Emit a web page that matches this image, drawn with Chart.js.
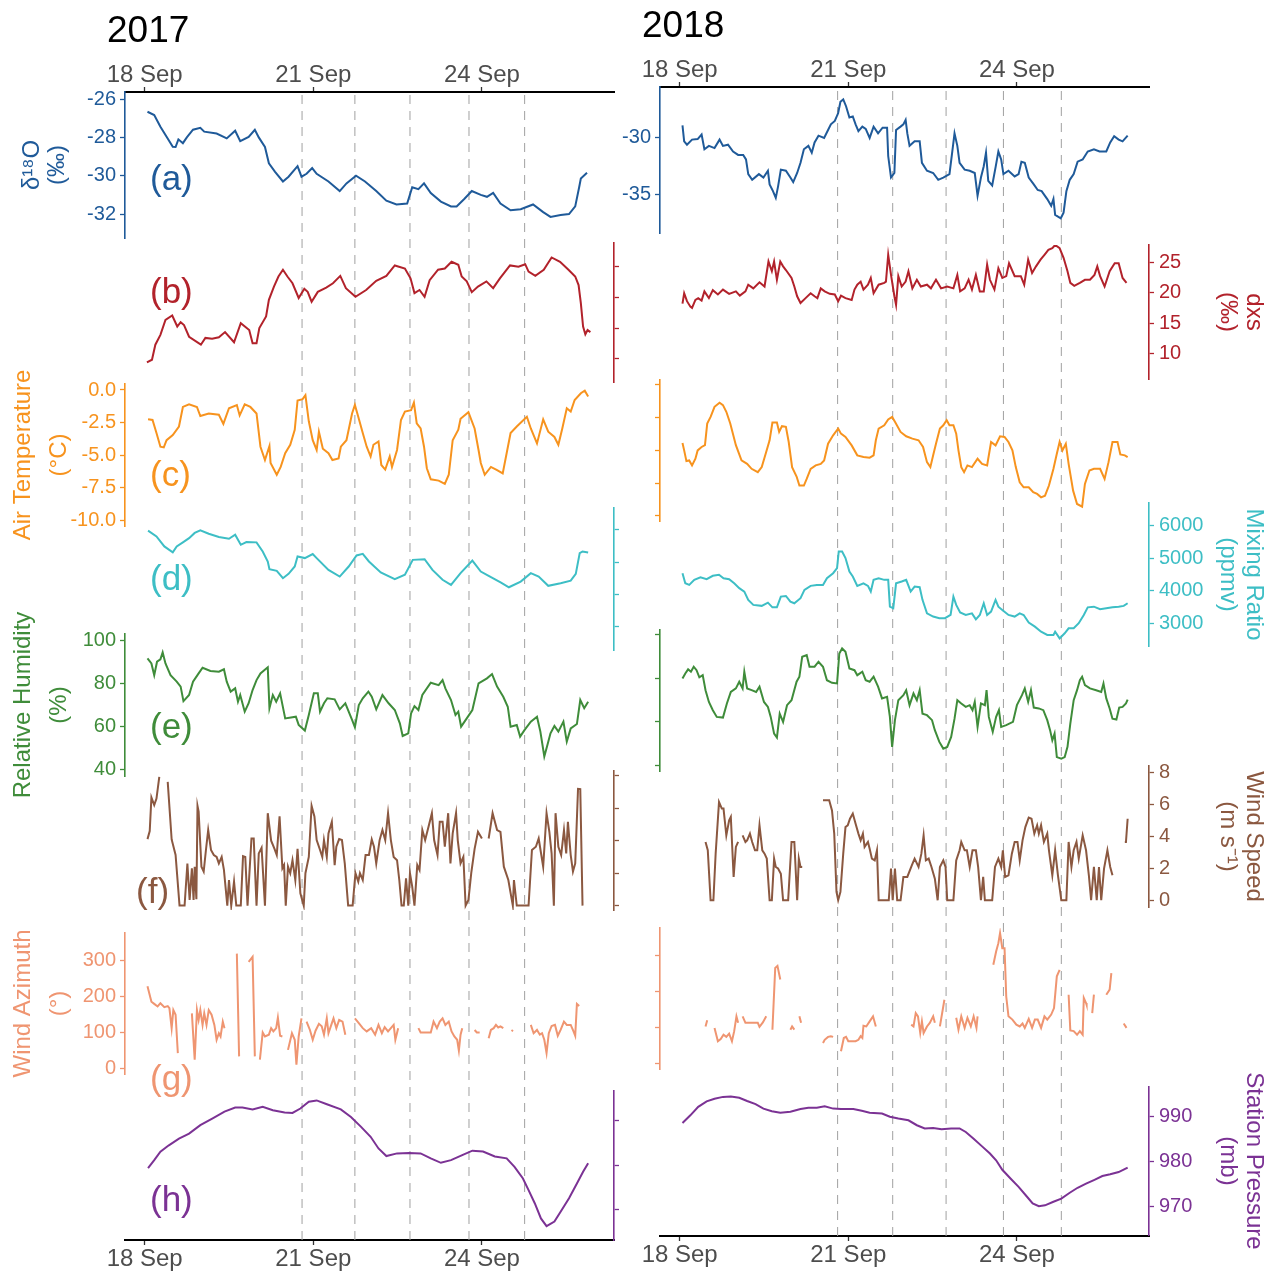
<!DOCTYPE html>
<html>
<head>
<meta charset="utf-8">
<title>Isotopes and weather, 18-26 Sep 2017 / 2018</title>
<script src="https://cdn.jsdelivr.net/npm/chart.js"></script>
<style>
  body { margin: 0; background: #fff; }
  #wrap { position: relative; width: 1269px; height: 1273px; overflow: hidden; }
  .pane { position: absolute; top: 0; }
</style>
</head>
<body>
<div id="wrap"></div>
<script>
// time = days since 18 Sep 00:00, [t, value]; null = no data
const d18O_2017 = [[0.05,-26.66],[0.17,-26.83],[0.28,-27.44],[0.39,-27.97],[0.5,-28.49],[0.55,-28.5],[0.6,-28.1],[0.68,-28.3],[0.75,-28.0],[0.86,-27.6],[0.99,-27.5],[1.06,-27.7],[1.28,-27.8],[1.46,-28.05],[1.61,-27.65],[1.70,-28.2],[1.85,-27.97],[1.96,-27.6],[2.03,-28.0],[2.14,-28.5],[2.21,-29.35],[2.32,-29.8],[2.46,-30.3],[2.56,-30.05],[2.72,-29.5],[2.79,-30.05],[2.88,-29.9],[2.98,-29.6],[3.06,-29.9],[3.27,-30.3],[3.47,-30.8],[3.59,-30.4],[3.76,-30.0],[3.92,-30.3],[4.12,-30.8],[4.30,-31.3],[4.48,-31.5],[4.67,-31.45],[4.76,-30.6],[4.87,-30.7],[4.97,-30.4],[5.09,-30.9],[5.27,-31.35],[5.45,-31.6],[5.55,-31.6],[5.69,-31.2],[5.82,-30.8],[5.98,-31.0],[6.09,-31.1],[6.20,-30.9],[6.33,-31.45],[6.51,-31.8],[6.69,-31.75],[6.91,-31.5],[7.09,-31.9],[7.22,-32.15],[7.40,-32.05],[7.55,-32.0],[7.66,-31.6],[7.73,-30.6],[7.76,-30.15],[7.87,-29.85]];
const dxs_2017 = [[0.04,9.42],[0.13,9.85],[0.19,12.3],[0.28,13.9],[0.37,16.35],[0.49,17.05],[0.58,15.26],[0.64,15.97],[0.7,15.5],[0.79,13.6],[1.0,12.3],[1.08,13.4],[1.2,13.26],[1.32,13.5],[1.43,14.35],[1.59,12.7],[1.71,15.8],[1.86,14.7],[1.92,12.55],[1.99,12.55],[2.04,15.0],[2.16,16.9],[2.21,19.6],[2.3,21.75],[2.38,23.4],[2.46,24.5],[2.54,23.4],[2.63,22.3],[2.74,19.9],[2.84,21.4],[2.9,20.9],[2.97,19.3],[3.08,20.9],[3.23,21.6],[3.35,22.3],[3.48,23.5],[3.58,21.5],[3.75,20.1],[3.94,21.2],[4.12,22.7],[4.3,23.5],[4.45,25.2],[4.63,24.7],[4.73,23.1],[4.8,20.7],[4.89,21.2],[4.98,20.1],[5.07,22.8],[5.22,24.5],[5.34,24.7],[5.46,25.8],[5.58,25.3],[5.64,23.4],[5.73,22.6],[5.82,20.85],[5.93,21.75],[6.08,22.6],[6.2,21.5],[6.32,23.1],[6.5,25.2],[6.65,25.0],[6.77,25.4],[6.83,24.2],[6.95,23.5],[7.1,24.5],[7.24,26.5],[7.39,25.8],[7.54,24.5],[7.66,23.4],[7.72,22.0],[7.76,19.05],[7.8,15.26],[7.84,14.0],[7.88,14.7],[7.93,14.35]];
const temp_2017 = [[0.06,-2.25],[0.14,-2.3],[0.21,-3.3],[0.28,-4.35],[0.34,-4.4],[0.39,-3.85],[0.5,-3.45],[0.61,-2.8],[0.68,-1.3],[0.79,-1.1],[0.93,-1.3],[0.99,-2.0],[1.14,-1.8],[1.32,-1.9],[1.40,-2.6],[1.50,-1.4],[1.64,-1.15],[1.69,-1.95],[1.78,-1.1],[1.88,-1.3],[1.99,-1.8],[2.06,-4.35],[2.14,-5.37],[2.22,-4.3],[2.24,-5.6],[2.35,-6.5],[2.42,-5.9],[2.50,-4.85],[2.59,-4.2],[2.67,-3.05],[2.72,-0.8],[2.81,-0.7],[2.86,-0.4],[2.92,-2.4],[2.99,-3.85],[3.06,-4.6],[3.10,-3.2],[3.17,-4.5],[3.27,-4.85],[3.34,-5.37],[3.45,-5.25],[3.49,-4.35],[3.59,-3.85],[3.69,-1.8],[3.74,-1.15],[3.80,-2.05],[3.88,-3.3],[3.95,-4.35],[4.02,-5.1],[4.07,-4.2],[4.16,-3.95],[4.21,-5.75],[4.28,-6.1],[4.36,-5.1],[4.40,-5.9],[4.49,-4.6],[4.56,-2.3],[4.63,-1.65],[4.74,-1.55],[4.79,-0.97],[4.84,-2.55],[4.91,-2.95],[4.97,-4.35],[5.02,-6.0],[5.09,-6.85],[5.23,-6.95],[5.34,-7.2],[5.41,-6.5],[5.48,-3.85],[5.58,-3.05],[5.62,-2.2],[5.76,-1.7],[5.87,-2.95],[5.94,-4.6],[5.98,-5.6],[6.05,-6.5],[6.16,-5.9],[6.27,-6.15],[6.37,-6.4],[6.44,-4.85],[6.51,-3.3],[6.62,-2.8],[6.80,-2.05],[6.87,-2.95],[6.98,-4.1],[7.09,-2.25],[7.18,-3.2],[7.29,-3.6],[7.36,-4.2],[7.43,-2.95],[7.51,-1.4],[7.58,-1.65],[7.65,-0.77],[7.76,-0.25],[7.83,-0.05],[7.89,-0.5]];
const mix_2017 = [[0.06,5970],[0.21,5795],[0.35,5485],[0.5,5300],[0.57,5485],[0.68,5610],[0.79,5740],[0.89,5900],[0.99,5980],[1.14,5875],[1.32,5775],[1.50,5720],[1.61,5845],[1.71,5535],[1.81,5620],[1.99,5610],[2.10,5330],[2.19,5020],[2.22,4785],[2.35,4730],[2.46,4505],[2.56,4640],[2.67,4865],[2.72,5175],[2.85,5125],[2.99,5250],[3.06,5125],[3.27,4760],[3.47,4555],[3.63,4865],[3.77,5205],[3.88,5255],[3.99,5020],[4.20,4680],[4.45,4475],[4.63,4610],[4.77,5070],[4.98,5090],[5.12,4760],[5.30,4455],[5.45,4300],[5.62,4660],[5.83,5050],[5.98,4710],[6.12,4575],[6.34,4370],[6.48,4225],[6.69,4400],[6.87,4660],[7.01,4555],[7.18,4270],[7.40,4350],[7.58,4430],[7.67,4640],[7.74,5280],[7.79,5330],[7.89,5300]];
const rh_2017 = [[0.05,91.5],[0.12,89.2],[0.17,83.8],[0.22,90],[0.28,91.1],[0.32,94.3],[0.37,89.2],[0.46,83.8],[0.57,80.8],[0.64,78.5],[0.69,71.8],[0.79,74.6],[0.86,80.8],[0.96,84.6],[1.03,87.2],[1.17,85.7],[1.32,85.4],[1.41,86.5],[1.46,80.8],[1.53,76.2],[1.61,77.7],[1.66,71.5],[1.70,74.6],[1.78,66.9],[1.85,70.8],[1.92,76.9],[1.99,81.5],[2.06,84.6],[2.19,87.4],[2.22,68.5],[2.28,74.6],[2.34,71.5],[2.41,75.4],[2.50,63.8],[2.69,64.6],[2.74,60.8],[2.85,58.2],[2.92,65.4],[3.01,75.4],[3.08,75.4],[3.12,66.9],[3.19,70.8],[3.25,73.1],[3.38,72.6],[3.47,68.0],[3.57,70.8],[3.69,63.1],[3.74,59.7],[3.81,70],[3.88,73.1],[3.98,76.2],[4.04,73.8],[4.12,68.0],[4.23,74.6],[4.34,70.8],[4.45,67.7],[4.54,61.5],[4.59,55.7],[4.69,56.9],[4.74,66.2],[4.80,69.5],[4.87,67.7],[4.94,74.6],[5.09,80.3],[5.23,79.2],[5.30,81.5],[5.35,77.7],[5.45,72.3],[5.53,65.4],[5.58,66.9],[5.63,60.0],[5.73,63.8],[5.83,67.7],[5.94,80],[6.09,82.3],[6.18,84.3],[6.27,78.5],[6.38,73.8],[6.46,69.2],[6.51,60],[6.62,60.8],[6.68,55.4],[6.76,58.5],[6.87,62.3],[6.98,64.6],[7.04,57.7],[7.11,46.2],[7.17,52],[7.22,56.9],[7.29,60.3],[7.36,57.7],[7.45,62.3],[7.51,53.1],[7.58,59.2],[7.69,61.2],[7.75,72.3],[7.82,68.5],[7.89,71.5]];
const ws_2017 = [[0.05,4.1],[0.09,4.6],[0.12,6.67],[0.17,6.2],[0.21,6.6],[0.26,7.94],[0.33,null],[0.41,7.63],[0.48,4.08],[0.55,3.12],[0.62,0],[0.71,0],[0.76,2.6],[0.8,0.35],[0.84,2.3],[0.87,0.35],[0.89,2.4],[0.92,0.4],[0.94,6.15],[0.96,5.8],[1.01,2.4],[1.05,2.1],[1.09,3.43],[1.13,4.66],[1.18,3.43],[1.23,3.12],[1.28,3.0],[1.32,2.6],[1.37,3.0],[1.41,2.2],[1.47,0],[1.50,1.58],[1.54,0],[1.59,1.48],[1.63,0],[1.71,0],[1.75,3.05],[1.79,3.0],[1.83,0],[1.90,4.14],[1.94,4.14],[1.99,0],[2.03,3.22],[2.08,3.57],[2.14,0],[2.19,5.7],[2.25,4.0],[2.31,3.5],[2.35,3.12],[2.40,5.5],[2.45,2.3],[2.48,2.5],[2.51,0],[2.55,2.4],[2.59,2.0],[2.63,2.8],[2.68,1.58],[2.72,3.5],[2.77,0.76],[2.83,0],[2.86,2.0],[2.92,3.0],[2.97,6.15],[3.02,5.5],[3.06,4.04],[3.12,3.43],[3.16,3.0],[3.19,4.04],[3.24,3.0],[3.27,4.45],[3.33,5.17],[3.38,2.5],[3.41,3.63],[3.46,4.1],[3.51,4.04],[3.56,2.6],[3.62,0],[3.70,0],[3.75,2.0],[3.80,1.48],[3.83,2.0],[3.88,1.58],[3.93,3.12],[3.99,3.12],[4.04,4.08],[4.08,3.63],[4.12,2.6],[4.18,4.04],[4.23,4.66],[4.28,4.04],[4.33,5.7],[4.38,4.04],[4.43,3.0],[4.49,2.8],[4.53,1.58],[4.57,0],[4.61,0],[4.65,1.68],[4.69,0],[4.72,2.0],[4.76,1.17],[4.80,0],[4.85,2.5],[4.89,2.2],[4.94,4.66],[4.99,4.04],[5.05,4.86],[5.11,5.7],[5.15,4.04],[5.21,3.12],[5.25,5.17],[5.30,5.17],[5.34,3.63],[5.40,5.7],[5.44,2.6],[5.48,4.45],[5.54,5.7],[5.57,4.04],[5.62,2.6],[5.67,3.0],[5.71,0],[5.76,0.35],[5.81,2.0],[5.87,3.5],[5.93,4.55],[6.00,4.14],[6.06,null],[6.12,4.14],[6.19,5.7],[6.27,4.66],[6.33,4.55],[6.39,2.4],[6.47,1.58],[6.55,0],[6.57,1.58],[6.62,0],[6.73,0],[6.78,0],[6.83,0],[6.89,3.43],[6.96,3.63],[7.01,4.14],[7.09,2.4],[7.15,5.7],[7.20,4.55],[7.24,3.22],[7.28,0],[7.31,5.7],[7.36,3.63],[7.41,3.12],[7.46,4.66],[7.50,3.22],[7.53,5.17],[7.58,3.12],[7.62,2.1],[7.66,2.6],[7.71,7.2],[7.75,7.18],[7.79,0]];
const wd_2017 = [[0.05,228],[0.12,185],[0.17,179],[0.23,172],[0.28,181],[0.35,170],[0.41,173],[0.44,167],[0.48,112],[0.51,162],[0.55,149],[0.59,43],[0.7,null],[0.84,153],[0.89,25],[0.93,162],[0.96,135],[0.99,162],[1.03,121],[1.06,153],[1.10,121],[1.14,162],[1.19,149],[1.24,121],[1.28,80],[1.32,98],[1.35,89],[1.39,130],[1.42,112],[1.5,null],[1.64,318],[1.68,34],[1.75,null],[1.85,295],[1.92,309],[1.96,34],[2.0,null],[2.05,25],[2.10,100],[2.14,89],[2.21,94],[2.25,112],[2.29,103],[2.34,112],[2.37,141],[2.41,91],[2.45,89],[2.5,null],[2.55,52],[2.62,98],[2.67,80],[2.70,11],[2.74,89],[2.79,139],[2.83,null],[2.88,130],[2.94,107],[2.99,80],[3.04,105],[3.10,124],[3.15,117],[3.19,94],[3.24,139],[3.27,98],[3.32,121],[3.36,139],[3.41,112],[3.46,135],[3.52,130],[3.57,94],[3.65,null],[3.74,139],[3.81,126],[3.88,112],[3.95,103],[4.03,112],[4.10,94],[4.16,121],[4.22,98],[4.27,115],[4.33,103],[4.38,112],[4.43,121],[4.46,80],[4.51,112],[4.7,null],[4.87,112],[4.91,100],[4.98,100],[5.09,100],[5.14,130],[5.20,112],[5.25,130],[5.30,139],[5.35,121],[5.41,130],[5.46,103],[5.51,89],[5.56,80],[5.59,50],[5.62,94],[5.65,112],[5.75,null],[5.87,107],[5.91,100],[5.96,100],[6.05,null],[6.12,84],[6.16,107],[6.21,112],[6.25,121],[6.29,114],[6.33,117],[6.38,112],[6.45,null],[6.53,103],[6.55,107],[6.7,null],[6.87,121],[6.92,98],[6.98,107],[7.03,94],[7.07,98],[7.11,80],[7.15,43],[7.19,98],[7.24,118],[7.30,121],[7.35,91],[7.40,107],[7.46,130],[7.51,121],[7.58,121],[7.63,103],[7.66,91],[7.69,179],[7.73,173]];
const pres_2017 = [[0.06,979.3],[0.17,981.1],[0.28,983.0],[0.43,984.4],[0.61,985.9],[0.79,987.0],[0.99,988.9],[1.21,990.4],[1.42,991.9],[1.61,992.8],[1.74,992.8],[1.92,992.4],[2.10,993.0],[2.28,992.2],[2.49,991.7],[2.63,991.6],[2.77,992.6],[2.92,994.1],[3.06,994.4],[3.23,993.6],[3.49,992.4],[3.67,990.7],[3.85,988.5],[4.02,986.3],[4.16,983.7],[4.30,982.0],[4.49,982.6],[4.70,982.7],[4.91,982.6],[5.09,981.5],[5.27,980.5],[5.45,981.1],[5.65,982.2],[5.83,983.2],[6.02,983.0],[6.23,981.9],[6.44,981.5],[6.58,979.6],[6.73,977.0],[6.83,974.4],[6.94,971.5],[7.05,968.1],[7.15,966.4],[7.29,967.4],[7.40,969.6],[7.55,972.6],[7.69,975.9],[7.80,978.5],[7.89,980.4]];

const d18O_2018 = [[0.05,-28.9],[0.08,-30.3],[0.13,-30.6],[0.22,-30.15],[0.32,-30.1],[0.39,-29.7],[0.44,-31.0],[0.52,-30.7],[0.62,-30.9],[0.71,-30.15],[0.77,-30.7],[0.86,-30.6],[0.95,-31.2],[1.04,-31.5],[1.13,-31.5],[1.18,-31.9],[1.22,-33.2],[1.29,-33.7],[1.41,-33.2],[1.49,-33.5],[1.57,-32.9],[1.60,-34.1],[1.66,-34.7],[1.71,-35.3],[1.75,-34.3],[1.80,-32.8],[1.89,-32.9],[1.97,-33.5],[2.02,-33.9],[2.09,-33.1],[2.15,-32.2],[2.21,-31.0],[2.29,-30.7],[2.35,-31.3],[2.40,-30.4],[2.47,-29.8],[2.57,-30.0],[2.64,-29.3],[2.69,-28.8],[2.76,-28.5],[2.82,-27.8],[2.86,-26.8],[2.91,-26.6],[2.96,-27.2],[3.02,-28.2],[3.08,-28.1],[3.13,-28.8],[3.18,-29.4],[3.25,-29.0],[3.31,-29.2],[3.38,-30.0],[3.45,-29.0],[3.53,-29.6],[3.61,-29.1],[3.69,-29.1],[3.71,-31.6],[3.76,-33.5],[3.82,-33.1],[3.85,-29.3],[3.93,-29.0],[3.98,-28.8],[4.02,-28.4],[4.05,-29.6],[4.09,-30.7],[4.18,-30.3],[4.27,-30.3],[4.31,-32.2],[4.40,-32.9],[4.51,-33.1],[4.60,-33.7],[4.69,-33.5],[4.80,-33.2],[4.85,-31.2],[4.89,-29.6],[4.94,-30.7],[4.98,-32.2],[5.07,-32.8],[5.16,-32.9],[5.25,-33.1],[5.30,-35.1],[5.36,-33.5],[5.41,-32.5],[5.45,-31.3],[5.49,-33.8],[5.56,-34.2],[5.62,-32.6],[5.67,-31.2],[5.72,-31.9],[5.76,-33.2],[5.85,-32.9],[5.96,-33.4],[6.03,-33.2],[6.08,-32.1],[6.14,-32.2],[6.21,-33.5],[6.30,-34.1],[6.37,-34.6],[6.44,-34.7],[6.54,-35.4],[6.61,-36.0],[6.65,-35.4],[6.68,-36.8],[6.78,-37.1],[6.83,-36.6],[6.88,-34.7],[6.94,-33.7],[7.01,-33.2],[7.08,-32.1],[7.17,-31.9],[7.26,-31.2],[7.37,-31.0],[7.47,-31.2],[7.59,-31.2],[7.66,-30.4],[7.73,-29.85],[7.81,-30.15],[7.88,-30.3],[7.97,-29.8]];
const dxs_2018 = [[0.05,18.2],[0.08,19.9],[0.13,18.6],[0.19,17.7],[0.22,17.5],[0.28,18.8],[0.33,19.1],[0.39,18.7],[0.44,20.2],[0.52,19.1],[0.59,20.4],[0.68,19.7],[0.77,20.5],[0.88,19.8],[1.0,20.2],[1.07,19.5],[1.17,20.2],[1.22,21.3],[1.31,20.7],[1.42,21.7],[1.51,21.0],[1.58,25.1],[1.64,23.5],[1.68,25.1],[1.73,22.1],[1.79,25.1],[1.84,24.3],[1.89,23.7],[1.99,22.4],[2.04,21.0],[2.09,19.4],[2.15,18.3],[2.24,19.1],[2.33,19.9],[2.4,19.4],[2.45,19.1],[2.51,20.7],[2.58,20.2],[2.67,19.8],[2.76,19.7],[2.82,18.6],[2.87,19.5],[2.95,19.1],[3.06,18.8],[3.11,20.5],[3.16,21.3],[3.22,21.8],[3.27,20.5],[3.35,21.3],[3.4,22.4],[3.45,19.9],[3.54,21.3],[3.64,21.6],[3.67,21.8],[3.71,26.2],[3.76,22.9],[3.82,19.4],[3.85,18.0],[3.89,22.7],[3.95,21.0],[4.02,21.8],[4.07,23.5],[4.14,20.7],[4.22,22.1],[4.29,21.0],[4.4,21.3],[4.47,20.7],[4.56,22.1],[4.65,20.7],[4.76,21.0],[4.87,20.7],[4.94,22.9],[4.99,20.2],[5.07,20.7],[5.14,22.1],[5.2,20.5],[5.27,22.9],[5.34,20.2],[5.41,20.2],[5.47,24.6],[5.52,22.1],[5.6,20.5],[5.67,24.0],[5.74,22.4],[5.81,22.7],[5.86,24.8],[5.96,22.7],[6.07,22.7],[6.13,21.3],[6.2,25.4],[6.27,23.2],[6.34,24.3],[6.42,25.4],[6.49,26.2],[6.56,27.0],[6.63,27.3],[6.68,27.8],[6.76,27.3],[6.83,25.7],[6.9,23.5],[6.95,21.6],[7.02,21.1],[7.12,21.6],[7.21,22.1],[7.3,22.1],[7.38,22.9],[7.43,24.3],[7.48,22.7],[7.56,21.0],[7.65,23.5],[7.74,24.8],[7.81,24.8],[7.88,22.4],[7.95,21.6]];
const temp_2018 = [[0.05,-4.44],[0.08,-5.0],[0.12,-5.82],[0.17,-5.77],[0.22,-6.15],[0.28,-5.64],[0.32,-5.0],[0.39,-4.74],[0.45,-4.6],[0.49,-2.95],[0.55,-2.44],[0.62,-1.67],[0.71,-1.36],[0.77,-1.54],[0.83,-2.05],[0.9,-2.95],[1.0,-4.6],[1.1,-5.77],[1.2,-6.03],[1.28,-6.41],[1.39,-6.67],[1.46,-6.28],[1.53,-5.26],[1.6,-4.23],[1.65,-2.87],[1.73,-2.87],[1.77,-3.59],[1.82,-3.15],[1.89,-3.2],[1.94,-4.36],[2.0,-6.28],[2.08,-7.0],[2.13,-7.69],[2.21,-7.69],[2.26,-7.18],[2.33,-6.41],[2.42,-6.15],[2.51,-6.03],[2.57,-5.77],[2.64,-4.49],[2.73,-3.85],[2.82,-3.33],[2.87,-3.72],[2.95,-3.97],[3.06,-4.62],[3.16,-5.38],[3.27,-5.51],[3.38,-5.56],[3.45,-5.38],[3.49,-4.23],[3.54,-3.33],[3.64,-3.08],[3.71,-2.64],[3.78,-2.44],[3.83,-2.82],[3.93,-3.59],[4.03,-3.92],[4.14,-4.1],[4.25,-4.23],[4.33,-4.74],[4.4,-5.9],[4.46,-6.28],[4.51,-5.38],[4.56,-4.49],[4.63,-3.33],[4.69,-3.08],[4.75,-2.69],[4.8,-3.08],[4.87,-3.08],[4.92,-3.72],[4.96,-5.0],[5.01,-6.28],[5.06,-6.67],[5.12,-6.15],[5.2,-6.28],[5.3,-5.64],[5.38,-6.03],[5.47,-6.15],[5.54,-4.36],[5.62,-4.62],[5.7,-3.92],[5.78,-3.97],[5.85,-4.36],[5.92,-5.0],[5.98,-6.28],[6.05,-7.44],[6.12,-7.82],[6.21,-7.82],[6.29,-8.2],[6.36,-8.33],[6.43,-8.59],[6.5,-8.46],[6.57,-7.69],[6.65,-6.41],[6.71,-5.26],[6.76,-4.36],[6.81,-5.0],[6.87,-4.49],[6.92,-6.03],[7.0,-8.08],[7.07,-9.1],[7.16,-9.31],[7.21,-7.56],[7.29,-6.54],[7.37,-6.41],[7.48,-6.41],[7.56,-7.18],[7.63,-5.9],[7.7,-4.36],[7.79,-4.36],[7.84,-5.31],[7.92,-5.38],[7.97,-5.51]];
const mix_2018 = [[0.05,4540],[0.1,4230],[0.17,4180],[0.26,4335],[0.37,4415],[0.48,4355],[0.59,4460],[0.7,4490],[0.78,4385],[0.88,4355],[0.97,4230],[1.06,4080],[1.15,3975],[1.22,3720],[1.31,3565],[1.46,3535],[1.57,3635],[1.65,3490],[1.73,3490],[1.8,3820],[1.89,3840],[1.97,3665],[2.04,3615],[2.15,3770],[2.22,4025],[2.33,4150],[2.44,4180],[2.55,4180],[2.62,4385],[2.73,4540],[2.8,4695],[2.83,5210],[2.89,5210],[2.95,5005],[3.02,4590],[3.08,4440],[3.16,4150],[3.27,4230],[3.35,4150],[3.4,3975],[3.45,4335],[3.54,4385],[3.64,4335],[3.71,4335],[3.74,3510],[3.8,3460],[3.85,4230],[3.95,4285],[4.03,4335],[4.11,3975],[4.18,4130],[4.27,4110],[4.32,3720],[4.4,3305],[4.51,3205],[4.62,3155],[4.72,3155],[4.82,3255],[4.87,3820],[4.92,3565],[4.99,3330],[5.09,3255],[5.2,3305],[5.27,3120],[5.34,3255],[5.41,3615],[5.47,3255],[5.54,3360],[5.62,3720],[5.67,3510],[5.74,3410],[5.85,3255],[5.96,3205],[6.05,3305],[6.12,3255],[6.21,3020],[6.32,2895],[6.43,2740],[6.54,2640],[6.65,2640],[6.68,2740],[6.76,2535],[6.85,2690],[6.92,2845],[7.01,2845],[7.1,3000],[7.19,3255],[7.26,3490],[7.37,3510],[7.48,3430],[7.59,3460],[7.7,3490],[7.81,3510],[7.9,3535],[7.97,3615]];
const rh_2018 = [[0.05,80],[0.1,82.3],[0.15,84.2],[0.2,83.1],[0.25,85.4],[0.3,83.8],[0.35,80.5],[0.41,81.5],[0.46,74.6],[0.52,69.2],[0.59,65.4],[0.66,62.3],[0.77,62],[0.84,68.5],[0.91,73.8],[1.0,75.4],[1.06,78.5],[1.12,75.4],[1.15,83.1],[1.2,75.4],[1.28,74.6],[1.36,73.8],[1.42,76.2],[1.5,69.2],[1.57,66.9],[1.62,62.3],[1.68,54.6],[1.73,52.8],[1.78,63.8],[1.84,60],[1.91,67.7],[1.99,70],[2.08,78.5],[2.13,80.8],[2.18,90],[2.26,90.8],[2.31,85.4],[2.4,85.4],[2.47,87.7],[2.55,85.4],[2.62,79.2],[2.71,78],[2.8,77.7],[2.84,91.5],[2.89,93.8],[2.95,92.3],[3.02,84.6],[3.11,83.8],[3.16,81.5],[3.25,83.1],[3.31,79.2],[3.38,78.5],[3.45,80.8],[3.53,76.2],[3.6,70.8],[3.69,71.5],[3.74,62.3],[3.78,48.5],[3.83,60.8],[3.89,70],[3.98,72.3],[4.03,74.6],[4.09,67.7],[4.16,73.1],[4.22,70],[4.27,74.6],[4.32,63.8],[4.4,63.1],[4.49,60.8],[4.54,56.2],[4.62,50.8],[4.69,47.7],[4.76,48.5],[4.83,53.1],[4.89,61.5],[4.94,70],[5.01,68.5],[5.09,66.9],[5.16,67.7],[5.21,65.4],[5.25,69.2],[5.3,57.7],[5.36,68.5],[5.43,67.7],[5.46,74.6],[5.5,62.3],[5.57,55.4],[5.63,62.3],[5.68,65.4],[5.72,57.7],[5.81,58.5],[5.93,60],[6.0,67.7],[6.09,72.3],[6.14,75.4],[6.2,69.2],[6.25,74.6],[6.3,66.6],[6.39,66.2],[6.47,65.4],[6.54,60.8],[6.59,56.2],[6.63,51.5],[6.67,54.6],[6.71,43.8],[6.79,43.1],[6.85,43.8],[6.9,48.5],[6.95,59.2],[7.01,70],[7.07,74.6],[7.12,79.2],[7.16,80.8],[7.21,76.9],[7.3,75.4],[7.41,74.6],[7.5,73.8],[7.54,77.7],[7.59,70.8],[7.65,66.2],[7.7,61.5],[7.77,61.1],[7.82,66.6],[7.88,66.9],[7.94,68.5],[7.97,70.3]];
const ws_2018 = [[0.46,3.64],[0.5,3.12],[0.55,0],[0.6,0],[0.64,2.9],[0.7,6.13],[0.75,5.72],[0.78,5.72],[0.83,4.05],[0.88,4.99],[0.91,5.2],[0.96,1.46],[1.0,3.33],[1.04,3.64],[1.08,null],[1.12,4.05],[1.17,3.64],[1.2,3.74],[1.25,4.16],[1.29,3.64],[1.34,3.12],[1.38,3.12],[1.42,4.68],[1.47,3.12],[1.51,2.91],[1.55,2.6],[1.6,0],[1.64,0],[1.68,2.6],[1.71,2.08],[1.75,1.98],[1.8,1.66],[1.84,0],[1.93,0],[1.99,3.64],[2.04,3.64],[2.09,0],[2.12,2.6],[2.15,2.08],[2.18,2.08],[2.3,null],[2.55,6.24],[2.66,6.24],[2.71,5.61],[2.75,4.16],[2.79,0.52],[2.82,0],[2.86,0.52],[2.91,2.91],[2.95,4.57],[2.99,4.68],[3.03,5.09],[3.08,5.41],[3.13,4.78],[3.18,4.16],[3.22,3.74],[3.26,4.16],[3.29,3.33],[3.35,3.64],[3.38,3.22],[3.42,2.6],[3.47,2.49],[3.51,3.12],[3.54,0],[3.64,0],[3.72,0],[3.76,1.98],[3.79,0],[3.83,1.98],[3.87,0],[3.93,0],[3.98,1.46],[4.05,1.46],[4.13,2.18],[4.18,2.6],[4.25,2.08],[4.3,2.91],[4.34,4.05],[4.38,2.49],[4.43,2.6],[4.48,2.08],[4.54,1.35],[4.59,0],[4.63,2.08],[4.69,2.49],[4.73,2.08],[4.76,0],[4.87,0],[4.92,2.49],[4.98,3.12],[5.01,3.64],[5.07,3.12],[5.11,3.12],[5.16,2.08],[5.21,3.12],[5.27,3.12],[5.31,2.08],[5.36,0],[5.4,1.46],[5.43,0],[5.56,0],[5.61,2.08],[5.67,2.6],[5.72,2.08],[5.75,3.12],[5.79,1.46],[5.85,1.56],[5.91,2.91],[5.96,3.64],[6.01,3.64],[6.05,2.49],[6.1,3.74],[6.15,4.57],[6.21,5.16],[6.26,5.09],[6.31,4.16],[6.36,4.68],[6.39,4.16],[6.43,4.68],[6.48,3.64],[6.54,4.16],[6.57,3.12],[6.63,1.56],[6.68,3.12],[6.73,1.56],[6.79,0],[6.88,0],[6.92,3.64],[6.97,2.08],[7.01,3.12],[7.06,3.64],[7.1,2.6],[7.17,4.05],[7.23,3.12],[7.28,1.56],[7.32,0],[7.37,2.08],[7.42,0],[7.46,2.08],[7.5,0],[7.55,1.98],[7.61,3.12],[7.66,2.08],[7.7,1.56],[7.8,null],[7.92,3.64],[7.94,3.64],[7.97,5.09]];
const wd_2018 = [[0.46,103],[0.49,120],[0.55,null],[0.62,99],[0.68,62],[0.73,68],[0.78,80],[0.83,74],[0.88,83],[0.93,62],[0.97,90],[1.01,131],[1.04,113],[1.08,null],[1.12,131],[1.17,113],[1.28,113],[1.39,113],[1.42,102],[1.48,114],[1.54,131],[1.6,null],[1.65,94],[1.7,265],[1.74,271],[1.79,233],[1.9,null],[1.97,94],[2.0,103],[2.04,94],[2.08,null],[2.13,131],[2.16,113],[2.3,null],[2.55,57],[2.58,66],[2.64,74],[2.69,76],[2.73,74],[2.8,null],[2.87,34],[2.92,71],[2.96,74],[3.0,62],[3.06,62],[3.13,62],[3.18,66],[3.22,76],[3.25,71],[3.27,105],[3.32,103],[3.38,117],[3.44,131],[3.49,103],[3.8,null],[4.12,108],[4.16,103],[4.2,140],[4.24,131],[4.28,85],[4.31,117],[4.34,85],[4.4,103],[4.45,113],[4.51,131],[4.54,113],[4.58,null],[4.63,103],[4.71,177],[4.8,null],[4.92,127],[4.96,94],[5.01,131],[5.07,99],[5.12,127],[5.18,103],[5.23,131],[5.28,99],[5.3,131],[5.45,null],[5.58,274],[5.63,311],[5.67,334],[5.7,362],[5.74,320],[5.78,320],[5.81,186],[5.85,131],[5.92,122],[5.99,108],[6.05,103],[6.1,111],[6.14,99],[6.21,124],[6.27,99],[6.32,122],[6.37,122],[6.43,99],[6.49,131],[6.54,122],[6.61,136],[6.66,154],[6.71,242],[6.76,260],[6.85,null],[6.92,191],[6.95,92],[7.01,90],[7.07,80],[7.12,90],[7.17,80],[7.19,182],[7.23,168],[7.24,163],[7.29,null],[7.34,140],[7.37,191],[7.5,null],[7.59,191],[7.65,205],[7.68,251],[7.8,null],[7.9,111],[7.95,99]];
const pres_2018 = [[0.05,988.5],[0.19,990.2],[0.33,992.1],[0.48,993.3],[0.62,993.9],[0.77,994.3],[0.91,994.4],[1.06,994.1],[1.2,993.4],[1.35,992.7],[1.49,991.7],[1.64,991.1],[1.79,990.8],[1.97,991.0],[2.15,991.6],[2.29,991.9],[2.44,991.9],[2.58,992.2],[2.73,991.7],[2.87,991.6],[3.09,991.6],[3.24,991.2],[3.38,990.8],[3.6,990.6],[3.74,989.9],[3.89,989.5],[4.07,989.1],[4.22,988.0],[4.36,987.3],[4.51,987.4],[4.66,987.1],[4.83,987.3],[4.98,987.3],[5.09,986.5],[5.23,985.0],[5.38,983.3],[5.52,981.7],[5.63,980.2],[5.74,978.1],[5.89,976.1],[6.03,974.3],[6.18,972.1],[6.28,970.6],[6.39,970.0],[6.5,970.2],[6.65,971.0],[6.79,971.7],[6.94,973.0],[7.08,974.1],[7.23,975.0],[7.37,975.8],[7.52,976.7],[7.66,977.1],[7.81,977.6],[7.97,978.6]];

// dashed event lines (days since 18 Sep)
const events2017 = [2.80, 3.74, 4.72, 5.77, 6.76];
const events2018 = [2.81, 3.79, 4.74, 5.76, 6.79];

// tick values
const dayTicks = [0, 3, 6];
const dayLabels = ['18 Sep', '21 Sep', '24 Sep'];
const ticksD18O2017 = [-32, -30, -28, -26];
const ticksD18O2018 = [-35, -30];
const ticksDxs = [10, 15, 20, 25];
const ticksTemp = [-10, -7.5, -5, -2.5, 0];
const ticksMix = [3000, 4000, 5000, 6000];
const ticksRH = [40, 60, 80, 100];
const ticksWS = [0, 2, 4, 6, 8];
const ticksWD = [0, 100, 200, 300];
const ticksP = [970, 980, 990];

const FONT = "'Liberation Sans', Arial, sans-serif";
Chart.defaults.font.family = FONT;
Chart.defaults.animation = false;

const COL = {
  d18O: '#1f5a99', dxs: '#b2222b', temp: '#f7931e', mix: '#3dbec5',
  rh: '#3f8c3a', ws: '#8b5840', wd: '#ef9571', p: '#7b3294'
};
const X_MIN = -0.35, X_MAX = 8.35, H = 1273;
const wrap = document.getElementById('wrap');

const columns = [
  { x0: 0, w: 640, left: 125, right: 614, top: 92, bottom: 1240, events: events2017, year: '2017', yearX: 107, yearY: 42 },
  { x0: 590, w: 679, left: 660, right: 1149, top: 87, bottom: 1236, events: events2018, year: '2018', yearX: 642, yearY: 37 }
];

const fmt1 = v => v.toFixed(1);
const fmt0 = v => String(v);

const titleLeft = { lh: 1.5, pad: 5 };
const titleRight = { lh: 1.1, pad: 2 };

const panels2017 = [
  { data: d18O_2017, c: COL.d18O, side: 'left', top: 92, bottom: 238, min: -33.25, max: -25.63, ticks: ticksD18O2017, labels: true, fmt: fmt0, title: ['δ¹⁸O', '(‰)'], tstyle: { lh: 1.04, pad: 20 }, tag: '(a)', tagX: 150, tagY: 190 },
  { data: dxs_2017, c: COL.dxs, side: 'right', top: 243, bottom: 382, min: 6.23, max: 28.85, ticks: ticksDxs, labels: false, tag: '(b)', tagX: 150, tagY: 303 },
  { data: temp_2017, c: COL.temp, side: 'left', top: 384, bottom: 526, min: -10.43, max: 0.46, ticks: ticksTemp, labels: true, fmt: fmt1, title: ['Air Temperature', '(°C)'], tstyle: titleLeft, tag: '(c)', tagX: 150, tagY: 486 },
  { data: mix_2017, c: COL.mix, side: 'right', top: 508, bottom: 650, min: 2290, max: 6670, ticks: ticksMix, labels: false, tag: '(d)', tagX: 150, tagY: 590 },
  { data: rh_2017, c: COL.rh, side: 'left', top: 634, bottom: 776, min: 37.2, max: 102.8, ticks: ticksRH, labels: true, fmt: fmt0, title: ['Relative Humidity', '(%)'], tstyle: titleLeft, tag: '(e)', tagX: 150, tagY: 738 },
  { data: ws_2017, c: COL.ws, side: 'right', top: 771, bottom: 910, min: -0.27, max: 8.3, ticks: ticksWS, labels: false, tag: '(f)', tagX: 136, tagY: 903 },
  { data: wd_2017, c: COL.wd, side: 'left', top: 933, bottom: 1074, min: -14.7, max: 375, ticks: ticksWD, labels: true, fmt: fmt0, title: ['Wind Azimuth', '(°)'], tstyle: titleLeft, tag: '(g)', tagX: 150, tagY: 1090 },
  { data: pres_2017, c: COL.p, side: 'right', top: 1091, bottom: 1240, min: 963.3, max: 996.5, ticks: ticksP, labels: false, tag: '(h)', tagX: 150, tagY: 1211 }
];

const panels2018 = [
  { data: d18O_2018, c: COL.d18O, side: 'left', top: 87, bottom: 233, min: -38.4, max: -25.5, ticks: ticksD18O2018, labels: true, fmt: fmt0 },
  { data: dxs_2018, c: COL.dxs, side: 'right', top: 245, bottom: 379, min: 5.85, max: 27.8, ticks: ticksDxs, labels: true, fmt: fmt0, title: ['dxs', '(‰)'], tstyle: titleRight },
  { data: temp_2018, c: COL.temp, side: 'left', top: 380, bottom: 521, min: -10.4, max: 0.38, ticks: ticksTemp, labels: false },
  { data: mix_2018, c: COL.mix, side: 'right', top: 503, bottom: 646, min: 2300, max: 6700, ticks: ticksMix, labels: true, fmt: fmt0, title: ['Mixing Ratio', '(ppmv)'], tstyle: titleRight },
  { data: rh_2018, c: COL.rh, side: 'left', top: 630, bottom: 771, min: 37.4, max: 102.3, ticks: ticksRH, labels: false },
  { data: ws_2018, c: COL.ws, side: 'right', top: 766, bottom: 907, min: -0.42, max: 8.38, ticks: ticksWS, labels: true, fmt: fmt0, title: ['Wind Speed', '(m s⁻¹)'], tstyle: titleRight },
  { data: wd_2018, c: COL.wd, side: 'left', top: 928, bottom: 1069, min: -15, max: 376, ticks: ticksWD, labels: false },
  { data: pres_2018, c: COL.p, side: 'right', top: 1087, bottom: 1235, min: 963.6, max: 996.5, ticks: ticksP, labels: true, fmt: fmt0, title: ['Station Pressure', '(mb)'], tstyle: titleRight }
];

function makeCanvas(col) {
  const div = document.createElement('div');
  div.className = 'pane';
  div.style.left = col.x0 + 'px';
  div.style.width = col.w + 'px';
  div.style.height = H + 'px';
  const cv = document.createElement('canvas');
  cv.width = col.w; cv.height = H;
  cv.style.width = col.w + 'px'; cv.style.height = H + 'px';
  div.appendChild(cv);
  wrap.appendChild(div);
  return cv;
}

function timeAxis(pos) {
  return {
    type: 'linear', position: pos, min: X_MIN, max: X_MAX,
    afterBuildTicks: s => { s.ticks = dayTicks.map(v => ({ value: v })); },
    afterFit: s => { s.height = 40; },
    ticks: {
      autoSkip: false, maxRotation: 0, color: '#4d4d4d', padding: pos === 'top' ? -3 : 0,
      font: { size: 24 },
      callback: v => dayLabels[dayTicks.indexOf(v)]
    },
    grid: { drawOnChartArea: false, tickLength: 5, color: '#333', tickWidth: 1.3 },
    border: { display: true, color: '#000', width: 2 }
  };
}

function frameChart(col) {
  const cv = makeCanvas(col);
  new Chart(cv, {
    type: 'line',
    data: {
      datasets: col.events.map(t => ({
        data: [{ x: t, y: 0 }, { x: t, y: 1 }],
        xAxisID: 'xb', yAxisID: 'y',
        borderColor: '#a0a0a0', borderWidth: 1, borderDash: [9, 7], pointRadius: 0
      }))
    },
    options: {
      responsive: false, animation: false,
      layout: { padding: { left: col.left - col.x0, right: col.x0 + col.w - col.right, top: col.top - 40, bottom: H - col.bottom - 40 } },
      scales: { xt: timeAxis('top'), xb: timeAxis('bottom'), y: { display: false, min: 0, max: 1 } },
      plugins: { legend: { display: false }, tooltip: { enabled: false } }
    },
    plugins: [{
      id: 'yearTitle',
      afterDraw(chart) {
        const ctx = chart.ctx;
        ctx.save();
        ctx.font = '37px ' + FONT;
        ctx.fillStyle = '#000';
        ctx.textBaseline = 'alphabetic';
        ctx.fillText(col.year, col.yearX - col.x0, col.yearY);
        ctx.restore();
      }
    }]
  });
}

function panelChart(col, p) {
  const cv = makeCanvas(col);
  const axisW = p.side === 'left' ? col.left - col.x0 : col.x0 + col.w - col.right;
  const ts = p.tstyle || titleLeft;
  new Chart(cv, {
    type: 'line',
    data: {
      datasets: [{
        data: p.data.map(d => ({ x: d[0], y: d[1] })),
        borderColor: p.c, borderWidth: 2, pointRadius: 0, tension: 0, spanGaps: false
      }]
    },
    options: {
      responsive: false, animation: false,
      layout: { padding: {
        left: p.side === 'left' ? 0 : col.left - col.x0,
        right: p.side === 'right' ? 0 : col.x0 + col.w - col.right,
        top: p.top, bottom: H - p.bottom
      } },
      scales: {
        x: { type: 'linear', min: X_MIN, max: X_MAX, display: false },
        y: {
          type: 'linear', position: p.side, min: p.min, max: p.max,
          afterBuildTicks: s => { s.ticks = p.ticks.map(v => ({ value: v })); },
          afterFit: s => { s.width = axisW; },
          ticks: { display: p.labels, color: p.c, font: { size: 20 }, padding: p.side === 'left' ? 4 : 5, callback: p.fmt || fmt0 },
          grid: { drawOnChartArea: false, tickLength: 5, color: p.c, tickWidth: 1.3 },
          border: { display: true, color: p.c, width: 1.6 },
          title: {
            display: !!p.title, text: p.title || '', color: p.c,
            font: { size: 24, lineHeight: ts.lh },
            padding: { top: ts.pad, bottom: 0 }
          }
        }
      },
      plugins: { legend: { display: false }, tooltip: { enabled: false } }
    },
    plugins: [{
      id: 'panelTag',
      afterDraw(chart) {
        if (!p.tag) return;
        const ctx = chart.ctx;
        ctx.save();
        ctx.font = '35px ' + FONT;
        ctx.fillStyle = p.c;
        ctx.textBaseline = 'alphabetic';
        ctx.fillText(p.tag, p.tagX - col.x0, p.tagY);
        ctx.restore();
      }
    }]
  });
}

frameChart(columns[0]);
frameChart(columns[1]);
panels2017.forEach(p => panelChart(columns[0], p));
panels2018.forEach(p => panelChart(columns[1], p));
</script>
</body>
</html>
